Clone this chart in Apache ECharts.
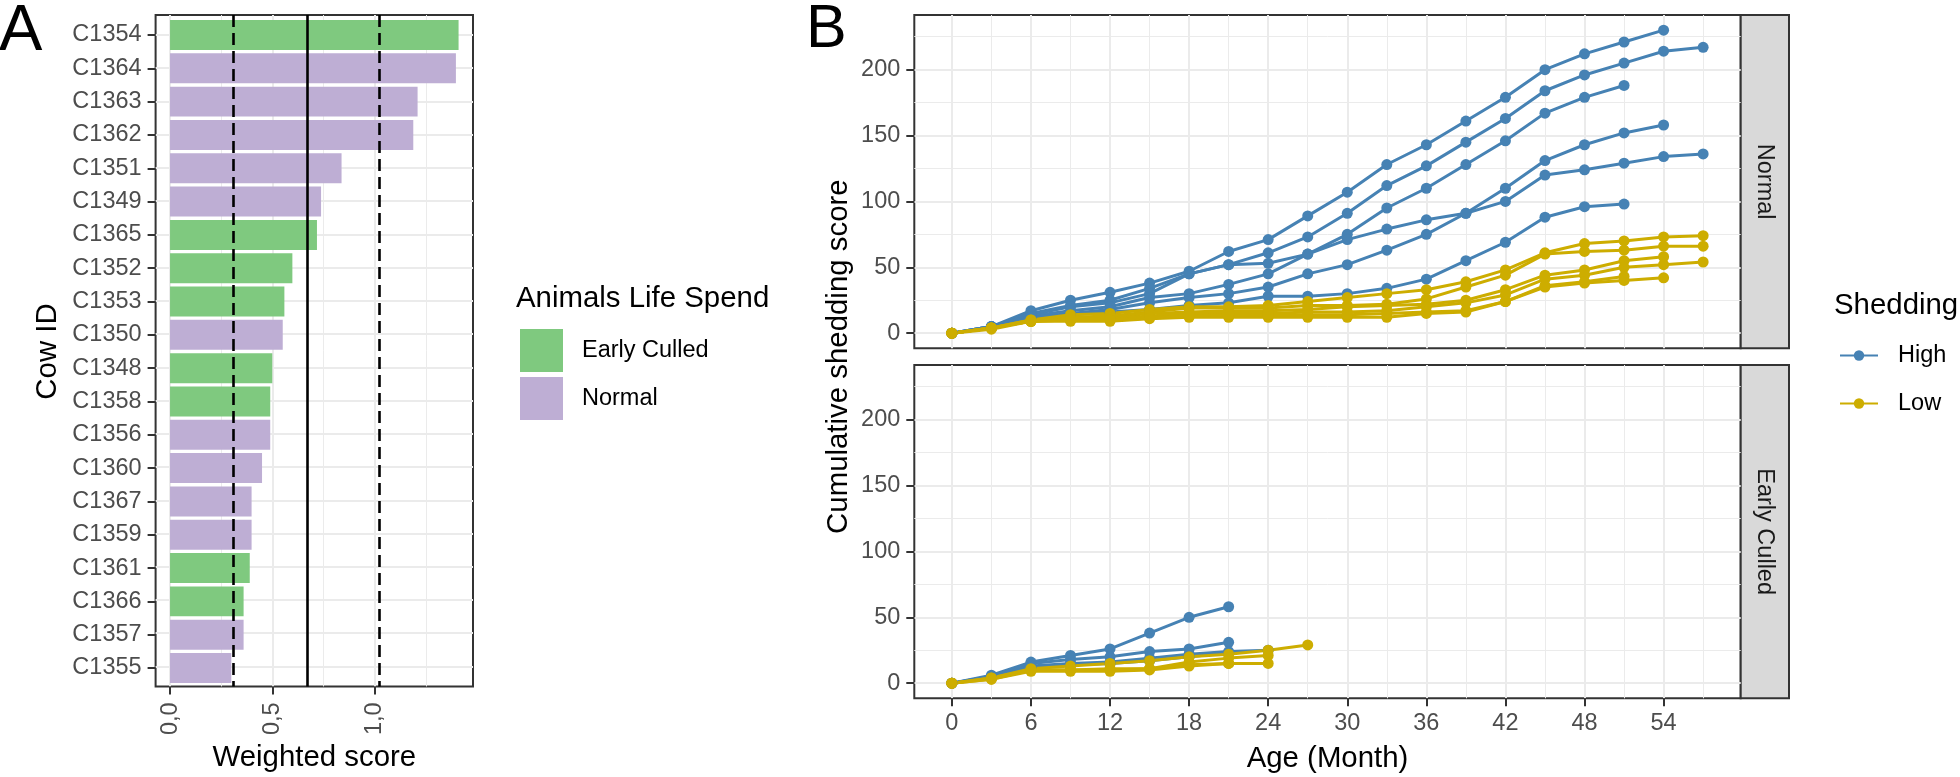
<!DOCTYPE html>
<html><head><meta charset="utf-8">
<script src="https://cdn.jsdelivr.net/npm/echarts@6/dist/echarts.min.js"></script>
<style>html,body{margin:0;padding:0;background:#fff}#c{width:1960px;height:777px}</style>
</head><body><div id="c"></div><script>
// ---------------- DATA ----------------
// Panel A
const cowIds = ['C1354','C1364','C1363','C1362','C1351','C1349','C1365','C1352','C1353','C1350',
                'C1348','C1358','C1356','C1360','C1367','C1359','C1361','C1366','C1357','C1355'];
const weightedScores = [1.408,1.395,1.208,1.187,0.837,0.737,0.717,0.597,0.558,0.550,
                        0.499,0.489,0.489,0.449,0.398,0.398,0.389,0.359,0.359,0.299];
const lifeSpan = ['Early Culled','Normal','Normal','Normal','Normal','Normal','Early Culled','Early Culled','Early Culled','Normal',
                  'Early Culled','Early Culled','Normal','Normal','Normal','Normal','Early Culled','Early Culled','Normal','Normal'];
const lifeSpanGroups = ['Early Culled','Normal'];
const scoreCutoffs = [0.312, 0.667, 1.021];   // lower (dashed), mean (solid), upper (dashed)
const scoreTicks = [0, 0.5, 1.0];
const scoreMinorTicks = [0.25, 0.75, 1.25];

// Panel B
const ageMonths = [0,3,6,9,12,15,18,21,24,27,30,33,36,39,42,45,48,51,54,57];
const ageTicks = [0,6,12,18,24,30,36,42,48,54];
const ageMinorTicks = [3,9,15,21,27,33,39,45,51,57];
const shedTicks = [0,50,100,150,200];
const shedMinorTicks = [25,75,125,175,225];
const sheddingGroups = ['High','Low'];

const normalHigh = [
  [0,5,17,25,31,38,47,62,71,89,107,128,143,161,179,200,212,221,230],
  [0,5,15,21,25,34,45,52,61,73,91,112,127,145,163,184,196,205,214,217],
  [0,5,14,20,23,30,45,52,53,60,75,95,110,128,146,167,179,188],
  [0,4,12,15,18,23,27,30,35,45,52,63,75,91,110,131,143,152,158],
  [0,5,13,17,20,27,30,37,45,60,71,79,86,91,100,120,124,129,134,136],
  [0,4,12,14,16,18,21,23,28,28,30,34,41,55,69,88,96,98]
];
const normalLow = [
  [0,4,10,14,15,18,20,20,21,24,27,30,33,39,48,61,68,70,73,74],
  [0,4,10,12,13,16,19,19,19,21,21,22,26,35,44,60,62,63,66,66],
  [0,4,9,11,12,15,16,17,17,18,20,21,22,25,33,44,48,55,58],
  [0,4,9,10,11,13,15,15,15,16,16,17,20,23,29,41,44,50,52,54],
  [0,3,9,9,9,11,12,12,12,12,12,12,15,16,24,35,38,40,42],
  [0,4,9,10,10,12,13,14,14,14,14,15,16,17,24,36,39,43]
];
const earlyHigh = [
  [0,6,16,21,26,38,50,58],
  [0,5,15,18,20,24,26,31],
  [0,5,13,15,16,19,22,24,25],
  [0,4,12,14,15,17,20,23]
];
const earlyLow = [
  [0,4,11,13,15,17,20,22,25,29],
  [0,4,10,10,11,11,16,19,21],
  [0,3,9,9,9,10,13,15,15],
  [0,3,10,10,10,11,14,15]
];

// ---------------- STYLE / LAYOUT ----------------
const FONT = '"Liberation Sans", Arial, Helvetica, sans-serif';
const AX_TXT = 23.5, TTL = 29.4;
const GRAY_TXT = '#4D4D4D', BORDER = '#333333', GRID = '#EBEBEB';
const BLUE = '#4682B4', GOLD = '#CDAD00';
const GREEN = '#7FC97F', PURPLE = '#BEAED4';
const groupColor = {'Early Culled': GREEN, 'Normal': PURPLE};
const shedColor = {'High': BLUE, 'Low': GOLD};

const A = {left:155.6, top:15, width:317.4, height:673};
const step = A.height / (cowIds.length + 0.2);
const AB = {left:A.left, top:A.top + 0.1*step, width:A.width, height:cowIds.length*step};
const B = {left:914.3, width:826.4, top1:15, h:333.3, top2:365};

// ggplot-like 5% expansion
const sMax = Math.max(...weightedScores);
const scoreRange = [-0.05*sMax, 1.05*sMax];
const allShed = [].concat(...normalHigh, ...normalLow, ...earlyHigh, ...earlyLow);
const shMax = Math.max(...allShed);
const shedRange = [-0.05*shMax, 1.05*shMax];
const agMax = Math.max(...[...normalHigh, ...normalLow, ...earlyHigh, ...earlyLow].map(a => ageMonths[a.length-1]));
const ageRange = [-0.05*agMax, 1.05*agMax];

const noLine = {show:false, onZero:false};
const tickStyle = {color:BORDER, width:2};
const lblStyle = {fontSize:AX_TXT, color:GRAY_TXT, fontFamily:FONT};

function gridAxis(gridIndex, range, ticks, width, extra) {
  return Object.assign({
    gridIndex, type:'value', min:range[0], max:range[1],
    axisLine:noLine,
    axisTick:{show:false, customValues:ticks},
    axisLabel:{show:false},
    splitLine:{show:true, lineStyle:{color:GRID, width}}
  }, extra || {});
}

const xAxis = [
  gridAxis(0, scoreRange, scoreTicks, 2, {
    axisTick:{show:true, customValues:scoreTicks, length:8, lineStyle:tickStyle},
    axisLabel:Object.assign({show:true, customValues:scoreTicks, rotate:90, margin:16,
      formatter: v => v.toFixed(1).replace('.', ',')}, lblStyle),
    name:'Weighted score', nameLocation:'middle', nameGap:52,
    nameTextStyle:{fontSize:TTL, color:'#000', fontFamily:FONT}
  }),
  gridAxis(0, scoreRange, scoreMinorTicks, 1),
  {gridIndex:1, type:'value', min:scoreRange[0], max:scoreRange[1], show:false},
  gridAxis(2, ageRange, ageTicks, 2),
  gridAxis(2, ageRange, ageMinorTicks, 1),
  gridAxis(3, ageRange, ageTicks, 2, {
    axisTick:{show:true, customValues:ageTicks, length:8, lineStyle:tickStyle},
    axisLabel:Object.assign({show:true, customValues:ageTicks, margin:13}, lblStyle),
    name:'Age (Month)', nameLocation:'middle', nameGap:46,
    nameTextStyle:{fontSize:TTL, color:'#000', fontFamily:FONT}
  }),
  gridAxis(3, ageRange, ageMinorTicks, 1),
  {gridIndex:4, type:'value', min:0, max:1, show:false}
];

const rowCenters = cowIds.map((_, i) => i + 1);
const yAxis = [
  gridAxis(0, [0.4, cowIds.length + 0.6], rowCenters, 2, {inverse:true}),
  {gridIndex:1, type:'category', data:cowIds, inverse:true,
   axisLine:noLine,
   axisTick:{show:true, alignWithLabel:true, length:8, lineStyle:tickStyle},
   axisLabel:Object.assign({show:true, interval:0, margin:14}, lblStyle),
   splitLine:{show:false},
   name:'Cow ID', nameLocation:'middle', nameGap:93,
   nameTextStyle:{fontSize:TTL, color:'#000', fontFamily:FONT}},
  gridAxis(2, shedRange, shedTicks, 2, {
    axisTick:{show:true, customValues:shedTicks, length:8, lineStyle:tickStyle},
    axisLabel:Object.assign({show:true, customValues:shedTicks, margin:14}, lblStyle)
  }),
  gridAxis(2, shedRange, shedMinorTicks, 1),
  gridAxis(3, shedRange, shedTicks, 2, {
    axisTick:{show:true, customValues:shedTicks, length:8, lineStyle:tickStyle},
    axisLabel:Object.assign({show:true, customValues:shedTicks, margin:14}, lblStyle)
  }),
  gridAxis(3, shedRange, shedMinorTicks, 1),
  {gridIndex:4, type:'value', min:0, max:1,
   axisLine:{show:false}, axisTick:{show:false}, axisLabel:{show:false}, splitLine:{show:false},
   name:'Cumulative shedding score', nameLocation:'middle', nameGap:61,
   nameTextStyle:{fontSize:TTL, color:'#000', fontFamily:FONT}}
];

const series = [];
lifeSpanGroups.forEach(g => {
  series.push({
    type:'bar', name:g, xAxisIndex:2, yAxisIndex:1,
    data: weightedScores.map((v, i) => lifeSpan[i] === g ? v : '-'),
    barWidth:'90%', barGap:'-100%', itemStyle:{color:groupColor[g]}, z:2,
    emphasis:{disabled:true}
  });
});
const cutStyles = [{type:[12,6]}, {type:'solid'}, {type:[12,6]}];
series.push({
  type:'line', name:'cutoffs', xAxisIndex:0, yAxisIndex:0, data:[], z:5, silent:true,
  markLine:{symbol:'none', silent:true, animation:false, label:{show:false},
    data: scoreCutoffs.map((v, i) => ({xAxis:v,
      lineStyle:{color:'#000', width:2.6, type:cutStyles[i].type}}))}
});

function lineSeries(values, name, xi, yi) {
  return {
    type:'line', name, xAxisIndex:xi, yAxisIndex:yi,
    data: values.map((v, i) => [ageMonths[i], v]),
    symbol:'circle', symbolSize:11, showSymbol:true,
    itemStyle:{color:shedColor[name]}, lineStyle:{color:shedColor[name], width:3},
    z:3, emphasis:{disabled:true}, silent:true
  };
}
normalHigh.forEach(a => series.push(lineSeries(a, 'High', 3, 2)));
normalLow.forEach(a => series.push(lineSeries(a, 'Low', 3, 2)));
earlyHigh.forEach(a => series.push(lineSeries(a, 'High', 5, 4)));
earlyLow.forEach(a => series.push(lineSeries(a, 'Low', 5, 4)));

const stripX = B.left + B.width, stripW = 48.3;
const option = {
  animation:false,
  backgroundColor:'#fff',
  textStyle:{fontFamily:FONT},
  title:[
    {text:'A', left:-1, top:0, padding:0, textStyle:{fontSize:65, fontWeight:'normal', color:'#000', fontFamily:FONT}},
    {text:'B', left:806, top:0, padding:0, textStyle:{fontSize:61, fontWeight:'normal', color:'#000', fontFamily:FONT}},
    {text:'Animals Life Spend', left:516, top:284, padding:0, textStyle:{fontSize:TTL, fontWeight:'normal', color:'#000', fontFamily:FONT}},
    {text:'Shedding', left:1834, top:291, padding:0, textStyle:{fontSize:TTL, fontWeight:'normal', color:'#000', fontFamily:FONT}}
  ],
  legend:[
    {data:lifeSpanGroups, orient:'vertical', left:520, top:329, icon:'rect', itemWidth:43, itemHeight:43,
     itemGap:5, padding:0, selectedMode:false,
     textStyle:{fontSize:AX_TXT, color:'#000', fontFamily:FONT, padding:[0,0,0,14]}},
    {data:sheddingGroups, orient:'vertical', left:1839, top:343.5, itemWidth:38, itemHeight:13,
     itemGap:24, padding:0, selectedMode:false,
     textStyle:{fontSize:AX_TXT, color:'#000', fontFamily:FONT, padding:[0,0,0,15]}}
  ],
  grid:[
    {left:A.left, top:A.top, width:A.width, height:A.height, show:true, borderColor:BORDER, borderWidth:2, backgroundColor:'#fff'},
    {left:AB.left, top:AB.top, width:AB.width, height:AB.height, show:false},
    {left:B.left, top:B.top1, width:B.width, height:B.h, show:true, borderColor:BORDER, borderWidth:2, backgroundColor:'#fff'},
    {left:B.left, top:B.top2, width:B.width, height:B.h, show:true, borderColor:BORDER, borderWidth:2, backgroundColor:'#fff'},
    {left:B.left, top:B.top1, width:B.width, height:B.top2 + B.h - B.top1, show:false}
  ],
  xAxis, yAxis, series,
  graphic:[
    {type:'rect', shape:{x:stripX, y:B.top1, width:stripW, height:B.h}, style:{fill:'#D9D9D9', stroke:BORDER, lineWidth:2}},
    {type:'rect', shape:{x:stripX, y:B.top2, width:stripW, height:B.h}, style:{fill:'#D9D9D9', stroke:BORDER, lineWidth:2}},
    {type:'text', x:stripX + stripW/2, y:B.top1 + B.h/2, rotation:-Math.PI/2,
     style:{text:'Normal', fontSize:AX_TXT, fontFamily:FONT, fill:'#1A1A1A', textAlign:'center', textVerticalAlign:'middle'}},
    {type:'text', x:stripX + stripW/2, y:B.top2 + B.h/2, rotation:-Math.PI/2,
     style:{text:'Early Culled', fontSize:AX_TXT, fontFamily:FONT, fill:'#1A1A1A', textAlign:'center', textVerticalAlign:'middle'}}
  ]
};
const chart = echarts.init(document.getElementById('c'));
chart.setOption(option);
</script></body></html>
